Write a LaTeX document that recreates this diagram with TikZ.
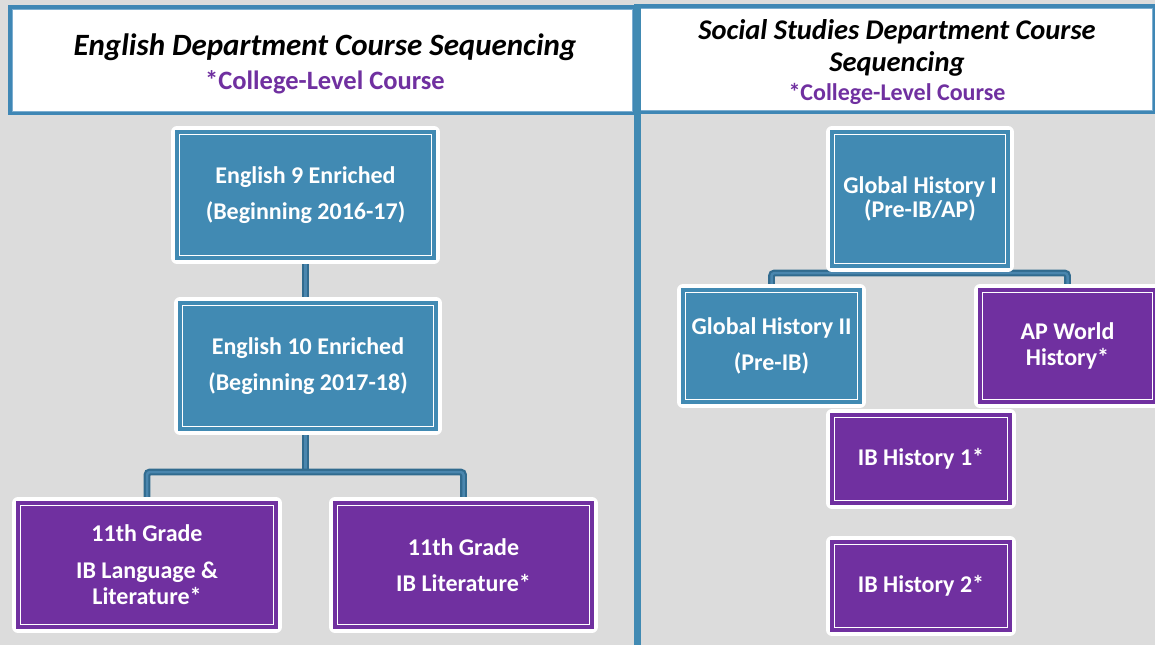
\documentclass[tikz,border=0pt]{standalone}
\usepackage{fontspec}
\setmainfont{Carlito}
\usepackage{xcolor}
\usetikzlibrary{calc}
\definecolor{courseblue}{HTML}{418AB3}
\definecolor{coursepurple}{HTML}{7030A0}
\definecolor{frameblue}{HTML}{3F87B5}
\definecolor{framethin}{HTML}{7DAED0}
\definecolor{linkblue}{HTML}{316B8F}
\definecolor{linkmid}{HTML}{4A86AE}
\definecolor{pagegray}{HTML}{DCDCDC}
\pgfdeclarelayer{back}
\pgfdeclarelayer{links}
\pgfsetlayers{back,links,main}

\newcommand{\headfont}{\fontsize{31}{32}\selectfont\itshape\bfseries}
\newcommand{\subfont}{\fontsize{26.5}{29}\selectfont\upshape\bfseries\color{coursepurple}}
\newcommand{\sheadfont}{\fontsize{28.5}{32}\selectfont\itshape\bfseries}
\newcommand{\ssubfont}{\fontsize{24}{29}\selectfont\upshape\bfseries\color{coursepurple}}

\tikzset{
  course/.style={fill=#1, inner sep=0pt, align=center, text=white,
    font=\bfseries\fontsize{24}{24}\selectfont,
    preaction={draw=white, line width=12pt, line join=round},
    postaction={draw=white, double=#1, line width=0.7pt, double distance=4pt}},
  titlebox/.style={fill=white, draw=frameblue, line width=4pt, inner sep=0pt},
  link/.style={draw=linkblue, double=linkmid, line width=2.2pt, double distance=2.5pt, rounded corners=3pt}
}

\begin{document}
\begin{tikzpicture}[x=1pt,y=-1pt]
\begin{pgfonlayer}{back}
\fill[pagegray] (0,0) rectangle (1155,645);
\end{pgfonlayer}
\useasboundingbox (0,0) rectangle (1155,645);

% titles
\node[titlebox, minimum width=624pt, minimum height=106pt] (engtitle) at (322,60) {};
\node[font=\headfont, align=center] (engtext) at (325,64)
  {English Department Course Sequencing\\[2pt]\subfont *College-Level Course};
\node[titlebox, minimum width=516pt, minimum height=106pt] (sstitle) at (896,59) {};
\node[font=\sheadfont, align=center] (sstext) at (897,62)
  {Social Studies Department Course\\Sequencing\\[-3pt]\ssubfont *College-Level Course};
\foreach \t in {engtitle,sstitle}
  \draw[framethin, line width=0.8pt] ($(\t.north west)+(4,4)$) rectangle ($(\t.south east)+(-4,-4)$);
\draw[courseblue, line width=7pt] (637.5,4) -- (637.5,645);

% english
\node[course=courseblue, minimum width=257pt, minimum height=126pt] (eng9) at (305.5,195)
  {English 9 Enriched\\[12pt](Beginning 2016-17)};
\node[course=courseblue, minimum width=256pt, minimum height=126pt] (eng10) at (308,366)
  {English 10 Enriched\\[12pt](Beginning 2017-18)};
\node[course=coursepurple, minimum width=258pt, minimum height=124pt] (ibll) at (147,565)
  {11th Grade\\[13pt]IB Language \&\\[2pt]Literature*};
\node[course=coursepurple, minimum width=257pt, minimum height=124pt] (iblit) at (463.5,565)
  {11th Grade\\[12pt]IB Literature*};

% social studies
\node[course=courseblue, minimum width=176pt, minimum height=134pt] (gh1) at (920,199)
  {Global History I\\(Pre-IB/AP)};
\node[course=courseblue, minimum width=177pt, minimum height=112pt] (gh2) at (771.5,346)
  {Global History II\\[12pt](Pre-IB)};
\node[course=coursepurple, minimum width=175pt, minimum height=112pt] (apwh) at (1067.5,346)
  {AP World\\[2pt]History*};
\node[course=coursepurple, minimum width=178pt, minimum height=88pt] (ib1) at (921,459)
  {IB History 1*};
\node[course=coursepurple, minimum width=178pt, minimum height=88pt] (ib2) at (921,586)
  {IB History 2*};

\coordinate (engsplit) at (305.5,472);
\coordinate (ghsplit) at (920,273);
\begin{pgfonlayer}{links}
\draw[link] (eng9.south) -- (eng9.south |- eng10.north);
\draw[link] (eng9.south |- eng10.south) -- (engsplit);
\draw[link] (ibll.north) |- (engsplit) -| (iblit.north);
\draw[link] (gh1) -- (ghsplit);
\draw[link] (gh2.north) |- (ghsplit) -| (apwh.north);
\end{pgfonlayer}
\end{tikzpicture}
\end{document}
